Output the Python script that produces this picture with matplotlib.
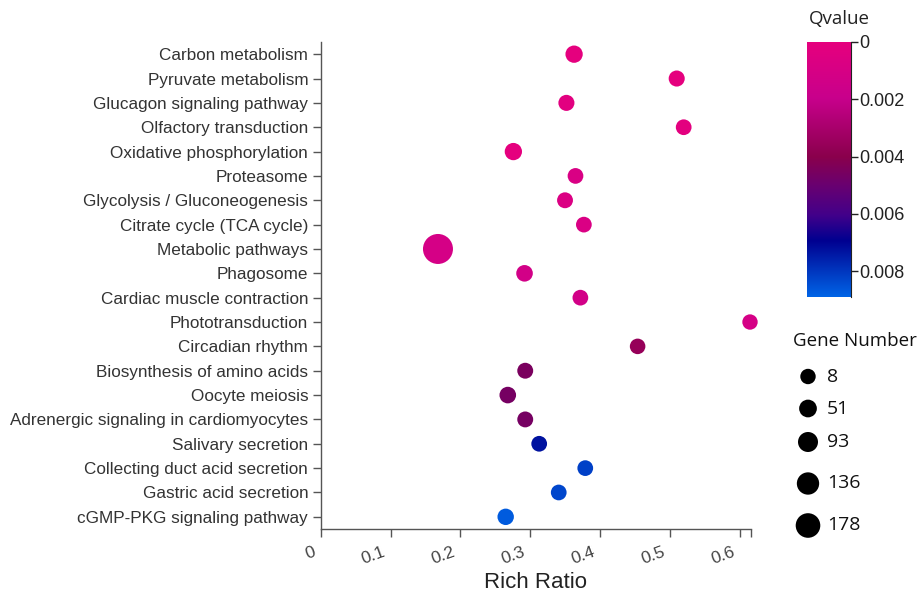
import numpy as np
import matplotlib
matplotlib.use("Agg")
import matplotlib.pyplot as plt
import matplotlib.transforms as mtransforms
from matplotlib.colors import LinearSegmentedColormap, Normalize

# pathway data (top to bottom)
pathways = ["Carbon metabolism", "Pyruvate metabolism", "Glucagon signaling pathway",
            "Olfactory transduction", "Oxidative phosphorylation", "Proteasome",
            "Glycolysis / Gluconeogenesis", "Citrate cycle (TCA cycle)", "Metabolic pathways",
            "Phagosome", "Cardiac muscle contraction", "Phototransduction",
            "Circadian rhythm", "Biosynthesis of amino acids", "Oocyte meiosis",
            "Adrenergic signaling in cardiomyocytes", "Salivary secretion",
            "Collecting duct acid secretion", "Gastric acid secretion", "cGMP-PKG signaling pathway"]
rich_ratio = [0.363, 0.510, 0.352, 0.520, 0.276, 0.365, 0.350, 0.377, 0.168, 0.292,
              0.372, 0.615, 0.454, 0.293, 0.268, 0.293, 0.313, 0.379, 0.341, 0.265]
qvalue = [0.00005, 0.0001, 0.0003, 0.0002, 0.0001, 0.0009, 0.0007, 0.0008, 0.0011, 0.0013,
          0.0013, 0.0011, 0.0036, 0.0045, 0.0046, 0.0046, 0.0073, 0.0082, 0.0083, 0.0087]
gene_number = [32, 18, 18, 14, 32, 14, 16, 14, 178, 24,
               14, 10, 12, 16, 24, 16, 14, 14, 14, 22]

legend_genes = [8, 51, 93, 136, 178]
q_ticks = [0, 0.002, 0.004, 0.006, 0.008]
x_ticks = [0, 0.1, 0.2, 0.3, 0.4, 0.5, 0.6]

W, H = 918, 594
DPI = 100
PT = 72.0 / DPI

cmap = LinearSegmentedColormap.from_list("qv", [
    (0.00, "#e6007e"), (0.22, "#c8008c"), (0.45, "#8a004c"),
    (0.56, "#6a0070"), (0.68, "#42008a"), (0.78, "#000090"), (1.00, "#0064e6")])
norm = Normalize(vmin=0, vmax=0.0089)


def fx(px):
    return px / W


def fy(py):
    return 1 - py / H


def data_r(g):
    # bubble radius in pixels
    return 7.6 + 7.4 * (g - 8) / 170.0


def legend_r(g):
    return 7.7 + 4.6 * (g - 8) / 170.0


plt.rcParams['font.family'] = ['Liberation Sans', 'DejaVu Sans']
fig = plt.figure(figsize=(W / DPI, H / DPI), dpi=DPI)

# main bubble axes
ax = fig.add_axes([fx(320.7), fy(529), fx(750.7) - fx(320.7), fy(42) - fy(529)])
ypos = np.arange(len(pathways))
sizes = [(2 * data_r(g) * PT) ** 2 for g in gene_number]
ax.scatter(rich_ratio, ypos, s=sizes, c=qvalue, cmap=cmap, norm=norm, linewidths=0,
           zorder=3, clip_on=False)
ax.set_xlim(0, 0.616)
ax.set_ylim(len(pathways) - 0.5, -0.5)
ax.set_yticks(ypos)
ax.set_yticklabels(pathways, fontsize=12.3, color="#333333")
ax.set_xticks(x_ticks + [0.616])
ax.set_xticklabels([("0" if t == 0 else f"{t:.1f}") for t in x_ticks] + [""],
                   fontsize=12.5, color="#444444", rotation=20, ha="right", rotation_mode="anchor")
ax.tick_params(axis="both", direction="out", length=6, width=1, color="#555555", pad=3)
ax.tick_params(axis="x", pad=5)
shift = mtransforms.ScaledTranslation(-8 / DPI, 0, fig.dpi_scale_trans)
for lbl in ax.get_xticklabels():
    lbl.set_transform(lbl.get_transform() + shift)
for side in ["top", "right"]:
    ax.spines[side].set_visible(False)
for side in ["left", "bottom"]:
    ax.spines[side].set_color("#555555")
    ax.spines[side].set_linewidth(1)
fig.text(fx(535), fy(583), "Rich Ratio", fontsize=16, color="#222222", ha="center", va="center")

# colorbar
cax = fig.add_axes([fx(807), fy(297), fx(851) - fx(807), fy(42) - fy(297)])
grad = np.linspace(0, 0.0089, 256).reshape(-1, 1)
cax.imshow(grad, aspect="auto", cmap=cmap, norm=norm, extent=[0, 1, 0.0089, 0], origin="upper")
cax.set_xlim(0, 1)
cax.set_ylim(0.0089, 0)
cax.set_xticks([])
cax.yaxis.tick_right()
cax.set_yticks(q_ticks)
cax.set_yticklabels([("0" if q == 0 else f"{q:.3f}") for q in q_ticks], fontsize=13, color="#222222")
cax.tick_params(axis="y", direction="out", length=5, width=1, color="#222222", pad=1)
for side in ["top", "left", "bottom"]:
    cax.spines[side].set_visible(False)
cax.spines["right"].set_color("#222222")
fig.text(fx(839), fy(19), "Qvalue", fontsize=13.5, family=["Open Sans", "DejaVu Sans"],
         ha="center", va="center", color="#222222")

# gene number legend
lax = fig.add_axes([0, 0, 1, 1], facecolor="none")
lax.set_xlim(0, W)
lax.set_ylim(H, 0)
lax.axis("off")
leg_y = [376.5, 408.5, 442, 483.5, 525.5]
lax.scatter([808] * len(legend_genes), leg_y, s=[(2 * legend_r(g) * PT) ** 2 for g in legend_genes],
            c="black", linewidths=0)
for g, y in zip(legend_genes, leg_y):
    lax.text(827, y, str(g), fontsize=14, family=["Open Sans", "DejaVu Sans"],
             ha="left", va="center", color="#111111")
lax.text(793, 341, "Gene Number", fontsize=13.5, family=["Open Sans", "DejaVu Sans"],
         ha="left", va="center", color="#111111")

fig.savefig("out.png", dpi=DPI)
